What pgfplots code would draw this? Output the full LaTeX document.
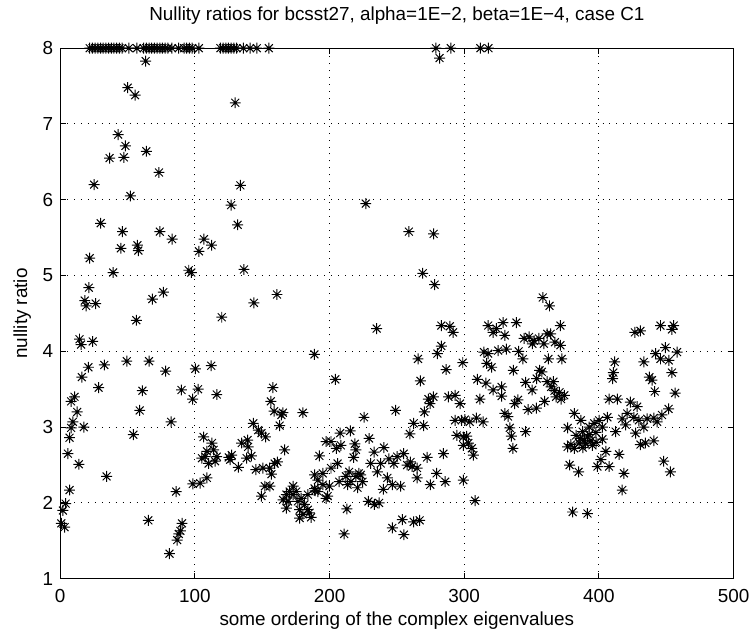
\documentclass[border=0pt]{standalone}
\usepackage{pgfplots}
\pgfplotsset{compat=1.18}
\usepackage{fontspec}
\setmainfont{Liberation Sans}

% matlab style '*' marker: plus and cross
\pgfdeclareplotmark{mstar}{%
  \pgfpathmoveto{\pgfqpoint{-\pgfplotmarksize}{0pt}}\pgfpathlineto{\pgfqpoint{\pgfplotmarksize}{0pt}}%
  \pgfpathmoveto{\pgfqpoint{0pt}{-\pgfplotmarksize}}\pgfpathlineto{\pgfqpoint{0pt}{\pgfplotmarksize}}%
  \pgfpathmoveto{\pgfqpoint{-0.72\pgfplotmarksize}{-0.72\pgfplotmarksize}}\pgfpathlineto{\pgfqpoint{0.72\pgfplotmarksize}{0.72\pgfplotmarksize}}%
  \pgfpathmoveto{\pgfqpoint{-0.72\pgfplotmarksize}{0.72\pgfplotmarksize}}\pgfpathlineto{\pgfqpoint{0.72\pgfplotmarksize}{-0.72\pgfplotmarksize}}%
  \pgfusepathqstroke}

\begin{document}
\begin{tikzpicture}
\begin{axis}[
  width=339pt, height=267pt, scale only axis,
  xmin=0, xmax=500, ymin=1, ymax=8,
  xtick={0,100,...,500}, ytick={1,2,...,8},
  /pgf/number format/assume math mode=true,
  tick label style={font=\fontsize{9.5}{11}\selectfont},
  label style={font=\fontsize{9.5}{11}\selectfont},
  title style={font=\fontsize{9.5}{11}\selectfont, at={(axis description cs:0.5,1)}, anchor=center, yshift=10.5pt},
  xlabel style={at={(axis description cs:0.5,0)}, anchor=center, yshift=-21pt},
  ylabel style={at={(axis description cs:0,0.5)}, anchor=center, yshift=19pt},
  xticklabel style={yshift=-2pt},
  tick align=inside, tick pos=both, major tick length=3pt,
  axis line style={line width=0.6pt},
  every tick/.style={black, line width=0.5pt},
  grid=major,
  major grid style={black, line width=0.5pt, dash pattern=on 0.5pt off 3pt},
  clip=false,
  title={Nullity ratios for bcsst27, alpha=1E−2, beta=1E−4, case C1},
  xlabel={some ordering of the complex eigenvalues},
  ylabel={nullity ratio},
]
\addplot[only marks, mark=mstar, mark size=2.75pt, line width=0.5pt, black] coordinates {
  % clipped at 8
  (22,8) (24,8) (26,8) (28,8) (30,8) (32,8) (34,8) (36,8) (38,8) (40,8)
  (42,8) (44,8) (46,8) (51,8) (57,8) (62,8) (64,8) (66,8) (68,8) (70,8)
  (72,8) (74,8) (76,8) (78,8) (80,8) (83,8) (88,8) (92,8) (94,8) (96,8)
  (98,8) (103,8) (119,8) (121,8) (123,8) (125,8) (127,8) (129,8) (131,8)
  (136,8) (141,8) (146,8) (155,8) (279,8) (290,8) (312,8) (318,8)
  % upper left
  (63.5,7.83) (50.2,7.48) (55.7,7.38) (130,7.28) (43.1,6.86) (48.5,6.71)
  (36.7,6.55) (47.3,6.56) (64,6.64) (73.4,6.36) (25.2,6.2) (133.8,6.19)
  (52.2,6.05) (127,5.93) (30.1,5.69) (131.8,5.67) (46.3,5.58) (74,5.58)
  (83.2,5.48) (106.8,5.48) (112.4,5.40) (103.1,5.32) (57.4,5.40) (58.1,5.33)
  (45.1,5.36) (22,5.23) (39.4,5.04) (95.5,5.07) (97.4,5.04) (136.5,5.08)
  (21.3,4.84) (18.3,4.67) (19.3,4.60) (26.4,4.63) (68.5,4.69) (76.6,4.78)
  (226.9,5.95) (258.9,5.58) (277.3,5.55) (269.2,5.03) (278,4.88) (281.7,7.87)
  (143.9,4.64) (161,4.75) (358.3,4.71) (363.3,4.60)
  % left part
  (56.6,4.41) (120,4.45) (14.4,4.16) (15.6,4.09) (24.2,4.13) (49.5,3.87)
  (66,3.87) (78.3,3.74) (100.4,3.77) (112.2,3.81) (32.8,3.82) (21,3.79)
  (16.1,3.66) (28.6,3.52) (61.1,3.48) (90.1,3.49) (102.4,3.50) (98.4,3.37)
  (116.3,3.43) (10.7,3.40) (8.2,3.34) (59.1,3.22) (12.7,3.20) (82.4,3.07)
  (9.5,3.07) (8.2,2.99) (17.6,3.0) (7,2.86) (54.4,2.90) (5.8,2.65)
  (13.9,2.51) (34.5,2.35) (7,2.17) (4.1,1.99) (2.1,1.90) (0.9,1.73)
  (3.3,1.68) (65.5,1.77) (86.1,2.15) (89.3,1.63) (90.5,1.73) (88.1,1.59)
  (86.9,1.51) (81.2,1.33)
  (158,3.52) (156.4,3.34) (158.9,3.21) (143.4,3.05) (147.1,2.96) (149.5,2.92)
  (152.5,2.87) (106.5,2.87) (112.7,2.79) (134.8,2.79) (139.2,2.83) (139.6,2.74)
  (114,2.70) (109,2.68) (105.3,2.59) (107.7,2.61) (116.3,2.61) (110.2,2.52)
  (115.1,2.55) (125.2,2.60) (127.4,2.63) (126.2,2.57) (138.5,2.59) (142,2.62)
  (132.3,2.47) (145.3,2.44) (150.6,2.46) (155.6,2.46) (159.3,2.52) (156.9,2.38)
  (109,2.33) (104,2.26) (98.5,2.25) (152,2.22) (149.5,2.09)
  % middle cluster
  (173,2.22) (170.4,2.15) (175.3,2.15) (168,2.11) (165.5,2.04) (172.9,2.11)
  (169.2,2.02) (168,1.93) (176.5,2.02) (179,2.06) (181.4,1.98) (177.8,1.91)
  (183.9,1.91) (180.2,1.85) (177.8,1.80) (186.3,1.81) (183.9,2.11) (191.3,2.15)
  (188.9,2.19) (197.4,2.06) (195,2.39) (201.1,2.46) (206,2.52) (188.9,2.37)
  (191.3,2.30) (195,2.24) (199.9,2.22) (207.2,2.28) (212.2,2.35) (215.9,2.28)
  (219.6,2.35) (223.2,2.37) (224.5,2.28) (220.8,2.20) (213.4,2.24) (214.6,2.41)
  (221.8,2.39) (192.5,2.62) (197.4,2.81) (201.1,2.81) (205,2.72) (208.4,2.76)
  (207.9,2.92) (215.4,2.95) (218.8,2.78) (219.6,2.70) (217.9,2.60) (229.4,2.85)
  (233.1,2.67) (230.6,2.52) (225.6,3.13) (180.2,3.19) (166.7,2.70) (161.3,2.54)
  (155.7,2.22) (212.9,1.92) (210.9,1.59) (228.9,2.02) (233.3,1.98) (164.3,3.16)
  (163,3.02) (165.4,3.19) (185.1,1.87) (189.3,2.16) (198.6,2.09)
  (249,3.22) (273.4,3.37) (277.1,3.40) (274.6,3.31) (270.4,3.20) (288.3,3.40)
  (293.2,3.42) (296.9,3.31) (293.2,3.09) (298.1,3.09) (262.5,3.05) (269.9,3.02)
  (259.6,2.91) (294.5,2.89) (299.3,2.87) (299.3,2.76) (240.4,2.73) (244.1,2.58)
  (250.2,2.61) (255.1,2.65) (247.8,2.52) (238,2.52) (257.6,2.50) (261.3,2.48)
  (265,2.46) (260.1,2.54) (272.4,2.60) (284.6,2.65) (235.5,2.41) (242.9,2.33)
  (246.6,2.24) (252.7,2.22) (265,2.33) (239.9,2.18) (279.5,2.39) (285.9,2.28)
  (274.8,2.24) (299.3,2.30) (236.8,2.0) (246.6,1.67) (254,1.78) (255.2,1.58)
  (262.5,1.75) (266.9,1.77)
  (235,4.30) (283,4.34) (289.3,4.33) (291.7,4.25) (188.8,3.96) (283,4.07)
  (280.1,3.97) (265.7,3.90) (286.6,3.76) (204.3,3.63) (267.5,3.61)
  % right middle
  (317.8,4.34) (323.9,4.30) (328.8,4.38) (338.7,4.38) (321.5,4.25) (330.1,4.21)
  (344.4,4.17) (348.1,4.19) (351.8,4.14) (355.5,4.17) (350.6,4.10) (359.1,4.10)
  (361.6,4.23) (364.1,4.23) (367.3,4.12) (371.4,4.34) (371.4,4.08) (314.6,3.99)
  (317.8,3.97) (325.2,4.01) (331.3,4.03) (340.4,4.0) (343.5,3.90) (316.7,3.84)
  (320.3,3.79) (336.5,3.75) (362.5,3.90) (372.4,3.90) (355.9,3.75) (298.9,3.85)
  (309.7,3.63) (316.1,3.58) (327.7,3.53) (321.5,3.49) (327.7,3.41) (345.5,3.59)
  (350.4,3.49) (353.8,3.64) (357.6,3.73) (361.6,3.60) (366.2,3.60) (364.5,3.53)
  (367,3.48) (311.7,3.37) (339.9,3.36) (337.5,3.31) (347.4,3.23) (353.6,3.25)
  (359.6,3.34) (330.1,3.18) (332.5,3.14) (300.4,3.10) (304.1,3.07) (309.1,3.12)
  (314,3.07) (333.8,2.99) (345.6,2.94) (335,2.88) (336.2,2.72) (301.8,2.88)
  (303.1,2.79) (305.6,2.72) (306.8,2.63)
  (380.5,1.88) (391.5,1.86) (308,2.03)
  % right part
  (426.7,4.25) (430.8,4.27) (445.7,4.34) (454.2,4.29) (455.5,4.34) (442,3.97)
  (449.4,4.05) (445.7,3.90) (451.9,3.88) (458,3.99) (433.3,3.86) (454.2,3.72)
  (411.7,3.86) (410.7,3.72) (410.2,3.64) (437.5,3.66) (439.4,3.62) (441.4,3.47)
  (456.6,3.45) (451.7,3.24) (407.5,3.37) (413.7,3.37) (423.4,3.33) (428.4,3.27)
  (370.7,3.46) (374.3,3.42) (371.9,3.37) (368.2,3.40) (381.7,3.18) (386.6,3.09)
  (376.8,2.99) (400.1,3.09) (406.3,3.13) (417.3,3.11) (421,3.18) (425.9,3.13)
  (429.6,3.09) (435.8,3.11) (440.7,3.12) (446.8,3.16) (392.8,3.0) (396.5,3.05)
  (402.6,3.0) (412.4,2.94) (419.8,3.03) (427.2,2.92) (433.3,3.0) (443.2,3.07)
  (383,2.89) (387.9,2.94) (391.5,2.87) (379.2,2.77) (385.3,2.79) (395.2,2.76)
  (402.6,2.84) (376.8,2.74) (381.7,2.72) (389.1,2.83) (392.8,2.90) (397.7,2.93)
  (430.8,2.77) (434.5,2.79) (440.7,2.82) (405.1,2.68) (414.9,2.64) (401.4,2.57)
  (398.9,2.48) (407.5,2.48) (378.2,2.50) (384.9,2.41) (418.6,2.39) (448.1,2.55)
  (453,2.41) (417.3,2.17) (386,2.85) (390,2.78) (394,2.82) (388,2.73) (398,2.80)
};
\end{axis}
\path ([xshift=-30.25pt,yshift=-29.65pt]current axis.south west) rectangle ([xshift=8.5pt,yshift=21.85pt]current axis.north east);
\end{tikzpicture}
\end{document}
